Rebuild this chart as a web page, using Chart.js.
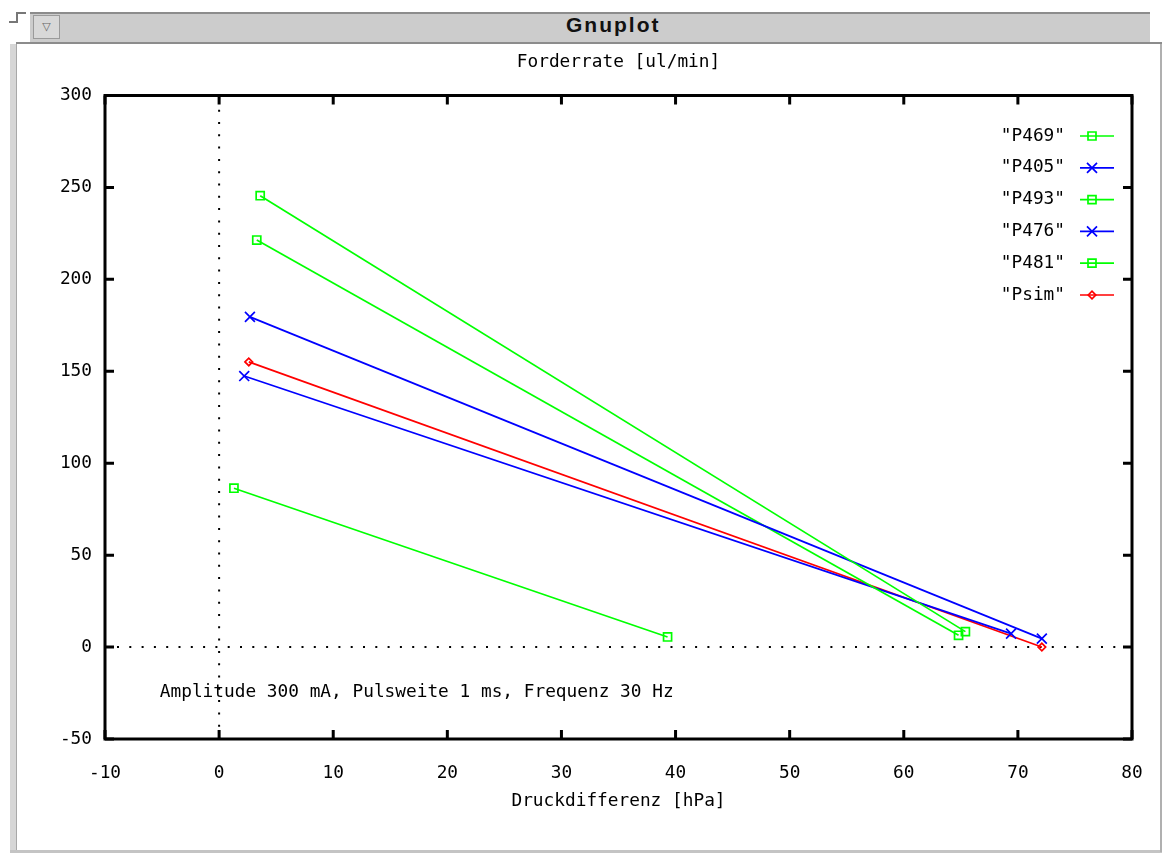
<!DOCTYPE html>
<html>
<head>
<meta charset="utf-8">
<title>Gnuplot</title>
<script src="https://cdn.jsdelivr.net/npm/chart.js@4.4.0/dist/chart.umd.min.js"></script>
<style>
  html, body { margin: 0; padding: 0; background: #fff; }
  body { width: 1165px; height: 854px; position: relative; overflow: hidden; }
  .edge { position: absolute; }
  #titlebar { position: absolute; left: 30px; top: 12px; width: 1120px; height: 28px;
    background: #cccccc; border-top: 2px solid #8c8c8c; }
  #barline { left: 16px; top: 42px; width: 1146px; height: 2px; background: #8c8c8c; }
  #menu { position: absolute; left: 33px; top: 15px; width: 25px; height: 22px;
    background: #d8d8d8; border: 1px solid #9a9a9a; color: #666; font: 11px "DejaVu Sans";
    text-align: center; line-height: 22px; }
  #wintitle { position: absolute; left: 566px; top: 14px; font: bold 21px "Liberation Sans";
    letter-spacing: 2px; line-height: 22px; color: #111; }
  #left { left: 10px; top: 44px; width: 6px; height: 808px; background: #d6d6d6; border-right: 1px solid #a8a8a8; }
  #bottom { left: 10px; top: 850px; width: 1152px; height: 3px; background: #c4c4c4; }
  #right { left: 1160px; top: 44px; width: 2px; height: 808px; background: #b0b0b0; }
  #c1 { left: 9px; top: 21px; width: 9px; height: 2px; background: #777; }
  #c2 { left: 16px; top: 12px; width: 2px; height: 11px; background: #777; }
  #c3 { left: 16px; top: 12px; width: 10px; height: 2px; background: #777; }
  #plot { position: absolute; left: 0; top: 0; }
</style>
</head>
<body>
<div id="titlebar"></div>
<div class="edge" id="barline"></div>
<div id="menu">&#9661;</div>
<div id="wintitle">Gnuplot</div>
<div class="edge" id="left"></div>
<div class="edge" id="bottom"></div>
<div class="edge" id="right"></div>
<div class="edge" id="c1"></div>
<div class="edge" id="c2"></div>
<div class="edge" id="c3"></div>
<canvas id="plot" width="1165" height="854"></canvas>
<script>
// Messreihen: Druckdifferenz [hPa] -> Förderrate [ul/min]
const names = ["P469", "P405", "P493", "P476", "P481", "Psim"];
const p469X = [3.6, 65.4];   const p469Y = [245.5, 8.4];
const p405X = [2.7, 72.1];   const p405Y = [179.6, 4.6];
const p493X = [3.3, 64.8];   const p493Y = [221.4, 6.4];
const p476X = [2.2, 69.4];   const p476Y = [147.4, 7.3];
const p481X = [1.3, 39.3];   const p481Y = [86.4, 5.5];
const psimX = [2.6, 72.1];   const psimY = [155.1, 0];

const xTicks = [-10, 0, 10, 20, 30, 40, 50, 60, 70, 80];
const yTicks = [-50, 0, 50, 100, 150, 200, 250, 300];

const yLabel = "Forderrate [ul/min]";
const xLabel = "Druckdifferenz [hPa]";
const note = "Amplitude 300 mA, Pulsweite 1 ms, Frequenz 30 Hz";
const notePos = [-5.2, -24.5];

const FONT = '"DejaVu Sans Mono", monospace';
const FSIZE = 17.8;

const green = "#00ff00", blue = "#0000ff", red = "#ff0000";
const styles = [
  { color: green, point: "rect", r: 5.7 },
  { color: blue, point: "crossRot", r: 7 },
  { color: green, point: "rect", r: 5.7 },
  { color: blue, point: "crossRot", r: 7 },
  { color: green, point: "rect", r: 5.7 },
  { color: red, point: "rectRot", r: 3.8 }
];
const xs = [p469X, p405X, p493X, p476X, p481X, psimX];
const ys = [p469Y, p405Y, p493Y, p476Y, p481Y, psimY];

const LW = 1.7;

const datasets = names.map((n, i) => ({
  label: n,
  data: xs[i].map((x, k) => ({ x: x, y: ys[i][k] })),
  showLine: true,
  borderColor: styles[i].color,
  borderWidth: LW,
  pointStyle: styles[i].point,
  pointRadius: styles[i].r,
  pointHoverRadius: styles[i].r,
  pointBorderColor: styles[i].color,
  pointBackgroundColor: "rgba(0,0,0,0)",
  pointBorderWidth: LW
}));

function mark(ctx, style, x, y, color) {
  ctx.strokeStyle = color;
  ctx.lineWidth = LW;
  ctx.beginPath();
  if (style === "rect") {
    ctx.rect(x - 4, y - 4, 8, 8);
  } else if (style === "crossRot") {
    ctx.moveTo(x - 5, y - 5); ctx.lineTo(x + 5, y + 5);
    ctx.moveTo(x + 5, y - 5); ctx.lineTo(x - 5, y + 5);
  } else {
    ctx.moveTo(x - 3.8, y); ctx.lineTo(x, y - 3.8);
    ctx.lineTo(x + 3.8, y); ctx.lineTo(x, y + 3.8); ctx.closePath();
  }
  ctx.stroke();
}

// gnuplot-artiger Rahmen: Nullachsen gepunktet, Ticks nach innen, Key oben rechts
const gnuplotFrame = {
  id: "gnuplotFrame",
  beforeDatasetsDraw(chart) {
    const { ctx, chartArea: a, scales: { x, y } } = chart;
    ctx.save();
    ctx.strokeStyle = "#000";
    ctx.lineWidth = 2;
    ctx.setLineDash([2, 10.3]);
    const x0 = x.getPixelForValue(0), y0 = y.getPixelForValue(0);
    ctx.beginPath();
    ctx.moveTo(x0, a.bottom); ctx.lineTo(x0, a.top);
    ctx.moveTo(a.left + 12, y0); ctx.lineTo(a.right, y0);
    ctx.stroke();
    ctx.restore();
  },
  afterDatasetsDraw(chart) {
    const { ctx, chartArea: a, scales: { x, y } } = chart;
    ctx.save();
    ctx.strokeStyle = "#000";
    ctx.lineWidth = 3;
    ctx.beginPath();
    x.ticks.forEach(t => {
      const px = x.getPixelForValue(t.value);
      ctx.moveTo(px, a.bottom); ctx.lineTo(px, a.bottom - 9);
      ctx.moveTo(px, a.top); ctx.lineTo(px, a.top + 9);
    });
    y.ticks.forEach(t => {
      const py = y.getPixelForValue(t.value);
      ctx.moveTo(a.left, py); ctx.lineTo(a.left + 9, py);
      ctx.moveTo(a.right, py); ctx.lineTo(a.right - 9, py);
    });
    ctx.stroke();
    ctx.strokeRect(a.left, a.top, a.right - a.left, a.bottom - a.top);

    ctx.fillStyle = "#000";
    ctx.font = FSIZE + "px " + FONT;
    ctx.textBaseline = "middle";
    ctx.textAlign = "center";
    ctx.fillText(yLabel, (a.left + a.right) / 2, 62);
    ctx.textAlign = "left";
    ctx.fillText(note, x.getPixelForValue(notePos[0]), y.getPixelForValue(notePos[1]));

    // Key
    chart.data.datasets.forEach((ds, i) => {
      const ry = a.top + 40.5 + i * 31.8;
      ctx.fillStyle = "#000";
      ctx.textAlign = "right";
      ctx.fillText('"' + ds.label + '"', a.right - 67, ry);
      ctx.strokeStyle = ds.borderColor;
      ctx.lineWidth = LW;
      ctx.beginPath();
      ctx.moveTo(a.right - 52, ry); ctx.lineTo(a.right - 18, ry);
      ctx.stroke();
      mark(ctx, ds.pointStyle, a.right - 40, ry, ds.borderColor);
    });
    ctx.restore();
  }
};

Chart.defaults.font.family = FONT;
Chart.defaults.font.size = FSIZE;
Chart.defaults.color = "#000";

new Chart(document.getElementById("plot"), {
  type: "scatter",
  data: { datasets: datasets },
  options: {
    responsive: false,
    animation: false,
    layout: { padding: { left: 45, right: 33, top: 95.5, bottom: 0 } },
    scales: {
      x: {
        type: "linear",
        min: xTicks[0],
        max: xTicks[xTicks.length - 1],
        afterBuildTicks: s => { s.ticks = xTicks.map(v => ({ value: v })); },
        ticks: { padding: 24, maxRotation: 0, autoSkip: false },
        grid: { display: false, drawTicks: false },
        border: { display: false },
        title: { display: true, text: xLabel, padding: { top: 0, bottom: 41.5 } },
        afterFit: s => { s.height = 115; s.paddingLeft = 0; s.paddingRight = 0; }
      },
      y: {
        type: "linear",
        min: yTicks[0],
        max: yTicks[yTicks.length - 1],
        afterBuildTicks: s => { s.ticks = yTicks.map(v => ({ value: v })); },
        ticks: { padding: 13, autoSkip: false },
        grid: { display: false, drawTicks: false },
        border: { display: false },
        afterFit: s => { s.width = 60; }
      }
    },
    plugins: {
      legend: { display: false },
      tooltip: { enabled: false }
    }
  },
  plugins: [gnuplotFrame]
});
</script>
</body>
</html>
